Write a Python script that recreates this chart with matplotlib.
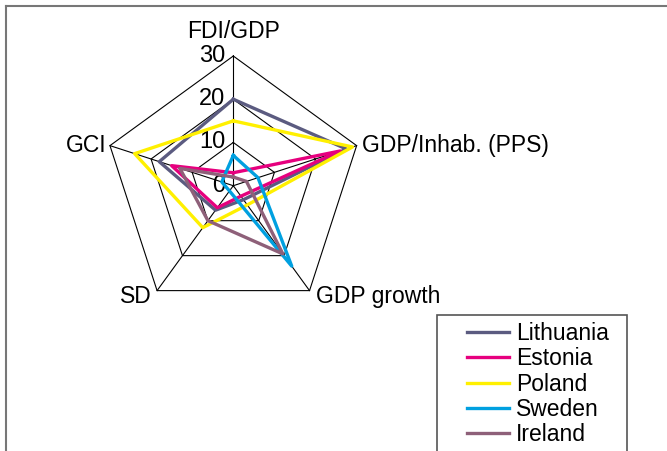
import numpy as np
from matplotlib import pyplot as plt
from matplotlib.lines import Line2D
from matplotlib.patches import Rectangle

plt.rcParams['font.family'] = ['Liberation Sans', 'DejaVu Sans']

# categories (clockwise from top) and values
categories = ['FDI/GDP', 'GDP/Inhab. (PPS)', 'GDP growth', 'SD', 'GCI']
rings = [0, 10, 20, 30]

lithuania = [20, 27.5, 4, 7, 18]
estonia = [3, 26, 3, 6.3, 15]
poland = [15, 29, 5.5, 12, 24]
sweden = [7, 6, 23, 1.5, 2.8]
ireland = [2, 3.2, 19.5, 10, 13]

series = [('Lithuania', lithuania, '#5B5B80'),
          ('Estonia', estonia, '#E6007E'),
          ('Poland', poland, '#FFF000'),
          ('Sweden', sweden, '#00A0E0'),
          ('Ireland', ireland, '#8E6079')]

W, H = 667, 451
fig = plt.figure(figsize=(W / 100, H / 100), dpi=100)

# axes placed so the centre sits at (233, 186) px and 30 -> ~130 px
cx, cy, half = 233.3, H - 185.7, 151.3
ax = fig.add_axes([(cx - half) / W, (cy - half) / H, 2 * half / W, 2 * half / H])
ax.set_xlim(-35, 35)
ax.set_ylim(-35, 35)
ax.axis('off')

ang = np.deg2rad(90 - 72 * np.arange(len(categories)))


def xy(vals):
    v = np.asarray(vals, dtype=float)
    x = v * np.cos(ang)
    y = v * np.sin(ang)
    return np.append(x, x[0]), np.append(y, y[0])


# pentagon grid and spokes
for r in rings[1:]:
    gx, gy = xy([r] * len(categories))
    ax.plot(gx, gy, color='black', lw=0.8, zorder=1)
for a in ang:
    ax.plot([0, 30 * np.cos(a)], [0, 30 * np.sin(a)], color='black', lw=0.8, zorder=1)

# ring labels
for r in rings:
    ax.annotate(str(r), xy=(0, r), xytext=(-8, 0), textcoords='offset pixels',
                ha='right', va='center', fontsize=17)

# category labels
offsets = [((0, 25), 'center', 'center'),
           ((5, 0), 'left', 'center'),
           ((6, -6), 'left', 'center'),
           ((-5, -6), 'right', 'center'),
           ((-3, 0), 'right', 'center')]
for a, name, (off, ha, va) in zip(ang, categories, offsets):
    ax.annotate(name, xy=(30 * np.cos(a), 30 * np.sin(a)), xytext=off,
                textcoords='offset pixels', ha=ha, va=va, fontsize=16.5)

# data
for i, (name, vals, col) in enumerate(series):
    px, py = xy(vals)
    ax.plot(px, py, color=col, lw=2.4, label=name, zorder=2 + i)

# legend
fig.legend(loc='upper left', bbox_to_anchor=(467 / W, 1 - 322 / H),
           frameon=False, fontsize=16.5, borderpad=0, borderaxespad=0,
           handlelength=1.85, handletextpad=0.28, labelspacing=0.1)
fig.add_artist(Rectangle((437 / W, -0.05), 190 / W, 0.05 + 1 - 315 / H,
                         transform=fig.transFigure, fill=False,
                         edgecolor='#555555', lw=1.2))

# outer chart border (top and left visible)
fig.add_artist(Line2D([5.5 / W, 5.5 / W], [0, 1 - 5.5 / H],
                      transform=fig.transFigure, color='#777777', lw=1.5))
fig.add_artist(Line2D([5.5 / W, 1], [1 - 5.5 / H, 1 - 5.5 / H],
                      transform=fig.transFigure, color='#777777', lw=1.5))

plt.savefig('out.png', dpi=100)
